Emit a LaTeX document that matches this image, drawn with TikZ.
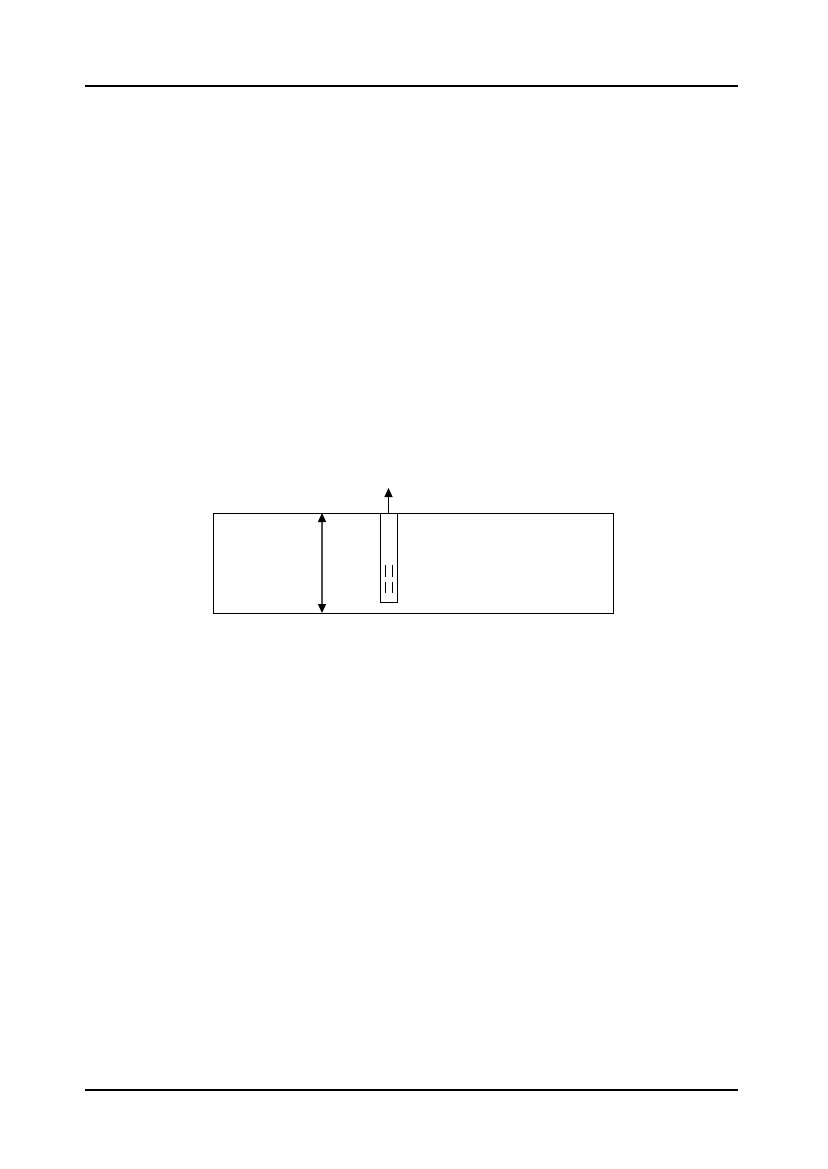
\documentclass[tikz,border=0pt]{standalone}
\usetikzlibrary{arrows.meta}
\begin{document}
\begin{tikzpicture}[x=1pt,y=-1pt,
  rule/.style={line width=1.4pt},
  thin box/.style={line width=1pt},
  tip/.style={-{Triangle[length=9pt,width=8pt,color=black]}},
  dbl/.style={{Triangle[length=9pt,width=8pt,color=black]}-{Triangle[length=9pt,width=8pt,color=black]}},
  dashline/.style={line width=0.9pt}]
\useasboundingbox[fill=white] (0,0) rectangle (827,1169);
% header and footer rules
\draw[rule] (85,86) -- (738,86);
\draw[rule] (85,1090) -- (738,1090);
% main box
\draw[thin box] (213,513) rectangle (613,613);
% double arrow (height)
\coordinate (htop) at (322,513);
\coordinate (hbot) at (322,613);
\draw[dbl, line width=1.3pt, black!70] (htop) -- (hbot);
% tube
\draw[thin box] (380,513) rectangle (397,602);
\coordinate (tubetop) at (388.5,513);
\coordinate (tubeout) at (388.5,488);
\draw[tip, line width=1pt] (tubetop) -- (tubeout);
% dashes inside tube
\draw[dashline] (385,565) -- (385,577) (392,565) -- (392,577);
\draw[dashline] (385,582) -- (385,593) (392,582) -- (392,593);
\end{tikzpicture}
\end{document}
